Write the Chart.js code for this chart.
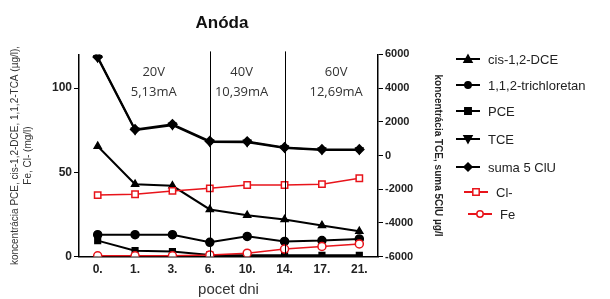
<!DOCTYPE html>
<html>
<head>
<meta charset="utf-8">
<script src="https://cdn.jsdelivr.net/npm/chart.js@4"></script>
<style>
  html, body { margin: 0; padding: 0; background: #fff; }
  #wrap { width: 610px; height: 299px; }
</style>
</head>
<body>
<div id="wrap"><canvas id="lineChart" width="610" height="299"></canvas></div>
<script>
// days of the experiment
var days = ['0.', '1.', '3.', '6.', '10.', '14.', '17.', '21.'];

// left axis (ug/l, mg/l)
var cisDCE = [65.5, 43, 42, 28, 24.5, 22, 18.5, 15];
var trichloretan = [13, 13, 13, 8.5, 12, 9, 9.5, 10.5];
var pce = [9.5, 3.5, 3, 1, 0.8, 0.8, 0.8, 0.8];
var chlorid = [36.5, 37, 39, 40.5, 42.5, 42.5, 43, 46.5];
var zelezo = [0.5, 0.5, 0.5, 1, 2, 4.5, 6, 7.5];

// right axis (ug/l)
var tce = [5800, 1500, 1800, 800, 780, 450, 330, 330];
var suma = [5850, 1550, 1850, 850, 830, 480, 360, 360];

// tick labels
var leftTicks = [0, 50, 100];
var rightTicks = [-6000, -4000, -2000, 0, 2000, 4000, 6000];

// voltage phases: boundaries and labels
var phaseLines = [3, 5];
var phaseLabels = [
    { at: 1.5, lines: ['20V', '5,13mA'] },
    { at: 3.85, lines: ['40V', '10,39mA'] },
    { at: 6.38, lines: ['60V', '12,69mA'] }
];

var legendItems = [
    { text: 'cis-1,2-DCE', style: 'triangle', color: '#000', fill: '#000', y: 59 },
    { text: '1,1,2-trichloretan', style: 'circle', color: '#000', fill: '#000', y: 85 },
    { text: 'PCE', style: 'rect', color: '#000', fill: '#000', y: 111 },
    { text: 'TCE', style: 'triangleDown', color: '#000', fill: '#000', y: 139 },
    { text: 'suma 5 ClU', style: 'rectRot', color: '#000', fill: '#000', y: 167 },
    { text: 'Cl-', style: 'rect', color: '#e8141b', fill: '#fff', y: 192, shift: 8 },
    { text: 'Fe', style: 'circle', color: '#e8141b', fill: '#fff', y: 214, shift: 12 }
];

function drawMarker(c, style, x, y, r) {
    c.beginPath();
    if (style === 'triangle') {
        c.moveTo(x, y - r); c.lineTo(x + r, y + r * 0.8); c.lineTo(x - r, y + r * 0.8); c.closePath();
    } else if (style === 'triangleDown') {
        c.moveTo(x, y + r); c.lineTo(x + r, y - r * 0.8); c.lineTo(x - r, y - r * 0.8); c.closePath();
    } else if (style === 'rect') {
        c.rect(x - r * 0.8, y - r * 0.8, r * 1.6, r * 1.6);
    } else if (style === 'rectRot') {
        c.moveTo(x, y - r); c.lineTo(x + r, y); c.lineTo(x, y + r); c.lineTo(x - r, y); c.closePath();
    } else {
        c.arc(x, y, r * 0.8, 0, Math.PI * 2);
    }
    c.fill();
    c.stroke();
}

var extras = {
    id: 'extras',
    afterDatasetsDraw: function (chart) {
        var c = chart.ctx;
        var xs = chart.scales.x;
        var area = chart.chartArea;
        c.save();
        // phase separators
        c.strokeStyle = '#000';
        c.lineWidth = 1;
        phaseLines.forEach(function (i) {
            var px = Math.round(xs.getPixelForValue(i)) + 0.5;
            c.beginPath();
            c.moveTo(px, area.top - 3);
            c.lineTo(px, area.bottom);
            c.stroke();
        });
        // phase labels
        c.fillStyle = '#333';
        c.font = '13px "Open Sans"';
        c.textAlign = 'center';
        c.textBaseline = 'middle';
        phaseLabels.forEach(function (p) {
            var step = xs.getPixelForValue(1) - xs.getPixelForValue(0);
            var px = xs.getPixelForValue(0) + p.at * step;
            c.fillText(p.lines[0], px, 72);
            c.fillText(p.lines[1], px, 92);
        });
        // legend
        c.textAlign = 'left';
        c.font = '13px "Liberation Sans"';
        legendItems.forEach(function (it) {
            var s = it.shift || 0;
            c.strokeStyle = it.color;
            c.lineWidth = 2;
            c.beginPath();
            c.moveTo(456 + s, it.y);
            c.lineTo(480 + s, it.y);
            c.stroke();
            c.fillStyle = it.fill;
            c.lineWidth = 1.5;
            drawMarker(c, it.style, 468 + s, it.y, 4);
            c.fillStyle = '#222';
            c.fillText(it.text, 488 + s, it.y + 1);
        });
        c.restore();
    }
};

function line(label, data, axis, color, style, fill, radius, width, rot) {
    return {
        label: label,
        data: data,
        yAxisID: axis,
        borderColor: color,
        backgroundColor: fill,
        pointStyle: style,
        pointRadius: radius,
        pointRotation: rot || 0,
        pointBorderColor: color,
        pointBackgroundColor: fill,
        pointBorderWidth: 1.5,
        borderWidth: width,
        tension: 0
    };
}

function fixedTicks(list) {
    return function (s) {
        s.ticks = list.map(function (v) { return { value: v }; });
    };
}

var ctx = document.getElementById('lineChart').getContext('2d');
var myChart = new Chart(ctx, {
    type: 'line',
    data: {
        labels: days,
        datasets: [
            line('Fe', zelezo, 'y', '#e8141b', 'circle', '#fff', 4, 1.5),
            line('Cl-', chlorid, 'y', '#e8141b', 'rect', '#fff', 4.5, 1.5),
            line('cis-1,2-DCE', cisDCE, 'y', '#000', 'triangle', '#000', 4, 2),
            line('1,1,2-trichloretan', trichloretan, 'y', '#000', 'circle', '#000', 4, 2),
            line('PCE', pce, 'y', '#000', 'rect', '#000', 4, 2),
            line('TCE', tce, 'y2', '#000', 'triangle', '#000', 4, 2, 180),
            line('suma 5 ClU', suma, 'y2', '#000', 'rectRot', '#000', 4.5, 2)
        ]
    },
    plugins: [extras],
    options: {
        responsive: false,
        animation: false,
        layout: { padding: { left: 0, right: 166, top: 0, bottom: 0 } },
        plugins: {
            legend: { display: false },
            tooltip: { enabled: false },
            title: {
                display: true,
                text: 'Anóda',
                color: '#111',
                font: { family: 'Liberation Sans', size: 17, weight: 'bold' },
                padding: { top: 13, bottom: 21 }
            }
        },
        scales: {
            x: {
                offset: true,
                grid: { display: false, drawTicks: true, tickLength: 4 },
                border: { color: '#000', width: 1.5 },
                ticks: { color: '#222', font: { family: 'Liberation Sans', size: 12, weight: 'bold' }, padding: 2 },
                title: {
                    display: true,
                    text: 'pocet dni',
                    color: '#333',
                    font: { family: 'Liberation Sans', size: 15 },
                    padding: { top: 2, bottom: 0 }
                }
            },
            y: {
                position: 'left',
                min: 0,
                max: 120,
                afterBuildTicks: fixedTicks(leftTicks),
                afterFit: function (s) { s.width = 79; },
                ticks: {
                    color: '#222',
                    font: { family: 'Liberation Sans', size: 12, weight: 'bold' },
                    padding: 2
                },
                grid: { drawOnChartArea: false, tickLength: 5, color: '#000' },
                border: { color: '#000', width: 1.5 },
                title: {
                    display: true,
                    text: ['koncentrácia PCE, cis-1,2-DCE, 1,1,2-TCA (µg/l),', 'Fe, Cl- (mg/l)'],
                    color: '#333',
                    font: { family: 'Liberation Sans', size: 10, lineHeight: 1.25 },
                    padding: { top: 9, bottom: 8 }
                }
            },
            y2: {
                position: 'right',
                min: -6000,
                max: 6000,
                afterBuildTicks: fixedTicks(rightTicks),
                afterFit: function (s) { s.width = 66; },
                ticks: {
                    color: '#222',
                    font: { family: 'Liberation Sans', size: 11, weight: 'bold' },
                    padding: 2,
                    callback: function (v) { return String(v); }
                },
                grid: { drawOnChartArea: false, tickLength: 5, color: '#000' },
                border: { color: '#000', width: 1.5 },
                title: {
                    display: true,
                    text: 'koncentrácia TCE, suma 5ClU µg/l',
                    color: '#222',
                    font: { family: 'Liberation Sans', size: 10, weight: 'bold' },
                    padding: 0
                }
            }
        }
    }
});
</script>
</body>
</html>
